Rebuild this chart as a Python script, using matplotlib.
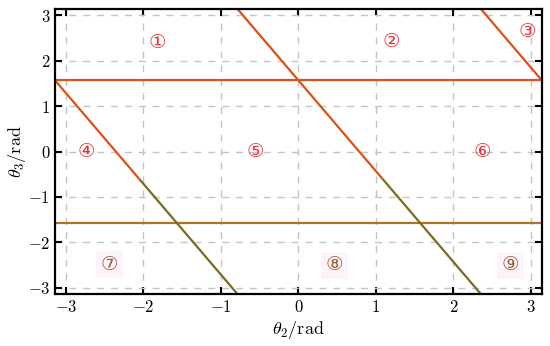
import numpy as np
import matplotlib
matplotlib.use("Agg")
import matplotlib.pyplot as plt
from matplotlib.ticker import FuncFormatter

plt.rcParams["mathtext.fontset"] = "cm"
plt.rcParams["font.family"] = ["DejaVu Serif", "DejaVu Sans", "Noto Sans CJK SC"]

PI = np.pi

# boundary segments (theta2 endpoints, theta3 endpoints)
upper_h_x = [-PI, PI]
upper_h_y = [PI / 2, PI / 2]
lower_h_x = [-PI, PI]
lower_h_y = [-PI / 2, -PI / 2]

diag_red_x = [[-PI, -2.056], [-PI / 4, 1.085], [3 * PI / 4, PI]]
diag_red_y = [[PI / 2, -0.6], [PI, -0.6], [PI, PI / 2]]
diag_olive_x = [[-2.056, -PI / 4], [1.085, 3 * PI / 4]]
diag_olive_y = [[-0.6, -PI], [-0.6, -PI]]

# region labels
region_text = ["①", "②", "③", "④", "⑤", "⑥", "⑦", "⑧", "⑨"]
region_x = [-1.82, 1.20, 2.95, -2.74, -0.55, 2.37, -2.44, 0.47, 2.74]
region_y = [2.40, 2.42, 2.64, 0.0, 0.0, 0.0, -2.49, -2.51, -2.51]

ticks = [-3, -2, -1, 0, 1, 2, 3]

RED = "#D95319"
BROWN = "#AE7420"
OLIVE = "#7C6A1E"
LABEL_RED = "#E8303A"
LABEL_BROWN = "#9A5E36"

fig = plt.figure(figsize=(5.5, 3.46), dpi=100)
ax = fig.add_axes([0.1, 0.150, 0.885, 0.824])

ax.grid(True, color="#c4c4c4", linestyle=(0, (5, 5)), linewidth=1.0)
ax.set_axisbelow(True)

ax.plot(upper_h_x, upper_h_y, color=RED, lw=1.6)
ax.plot(lower_h_x, lower_h_y, color=BROWN, lw=1.6)
for xs, ys in zip(diag_red_x, diag_red_y):
    ax.plot(xs, ys, color=RED, lw=1.6, solid_capstyle="butt")
for xs, ys in zip(diag_olive_x, diag_olive_y):
    ax.plot(xs, ys, color=OLIVE, lw=1.6, solid_capstyle="butt")

for i, (t, x, y) in enumerate(zip(region_text, region_x, region_y)):
    if i < 6:
        ax.text(x, y, t, color=LABEL_RED, fontsize=14, ha="center", va="center")
    else:
        ax.text(x, y, t, color=LABEL_BROWN, fontsize=14, ha="center", va="center",
                bbox=dict(boxstyle="square,pad=0.25", fc="#fdf3fa", ec="none"))

ax.set_xlim(-PI, PI)
ax.set_ylim(-PI, PI)
ax.set_xticks(ticks)
ax.set_yticks(ticks)
fmt = FuncFormatter(lambda v, p: r"$%d$" % v)
ax.xaxis.set_major_formatter(fmt)
ax.yaxis.set_major_formatter(fmt)
ax.tick_params(direction="in", top=True, right=True, length=5, width=1.5,
               labelsize=12, colors="black")
for s in ax.spines.values():
    s.set_linewidth(1.6)

ax.set_xlabel(r"$\theta_2/\mathrm{rad}$", fontsize=13, labelpad=2)
ax.set_ylabel(r"$\theta_3/\mathrm{rad}$", fontsize=13, labelpad=0)

fig.savefig("out.png", dpi=100)
